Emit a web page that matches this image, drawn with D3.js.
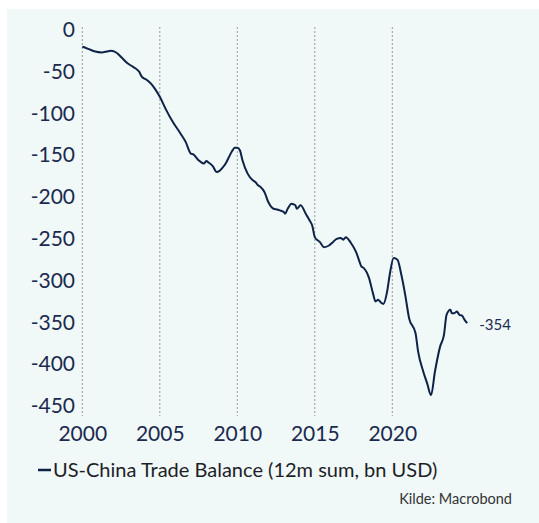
<!DOCTYPE html>
<html>
<head>
<meta charset="utf-8">
<script src="https://cdn.jsdelivr.net/npm/d3@7"></script>
<style>
  html, body { margin: 0; padding: 0; background: #ffffff; }
  svg { display: block; }
  text { font-family: "Lato", "DejaVu Sans", sans-serif; }
</style>
</head>
<body>
<svg id="chart" width="539" height="523"></svg>
<script>
// ---- data ----
const dates = [
  "2000-01","2000-06","2000-11","2001-04","2001-08","2001-11","2002-02","2002-04","2002-08","2002-12",
  "2003-03","2003-06","2003-09","2003-11","2004-03","2004-06","2004-09","2005-01","2005-06","2005-11",
  "2006-05","2006-09","2007-01","2007-03","2007-07","2007-11","2008-01","2008-03","2008-06","2008-09",
  "2008-11","2009-01","2009-04","2009-06","2009-09","2009-11","2010-01","2010-03","2010-05","2010-09",
  "2011-01","2011-03","2011-05","2011-07","2011-10","2012-01","2012-05","2012-08","2012-10","2013-01",
  "2013-02","2013-04","2013-07","2013-09","2013-10","2013-11","2014-02","2014-06","2014-09","2014-11",
  "2015-01","2015-05","2015-08","2015-12","2016-03","2016-06","2016-09","2016-11","2017-01","2017-05",
  "2017-09","2017-12","2018-01","2018-03","2018-07","2018-10","2018-12","2019-02","2019-04","2019-06",
  "2019-09","2019-11","2020-02","2020-05","2020-08","2020-11","2021-02","2021-07","2021-09","2022-01",
  "2022-04","2022-07","2022-10","2023-02","2023-05","2023-07","2023-10","2023-11","2024-01","2024-03",
  "2024-05","2024-07","2024-09","2024-11"
];
const balance = [
  -21,-24,-27,-28,-27,-26,-27,-29,-35,-41,
  -44,-47,-51,-57,-61,-65,-71,-81,-97,-111,
  -125,-135,-149,-150,-157,-161,-158,-160,-164,-171,
  -170,-167,-161,-155,-146,-142,-142,-145,-157,-173,
  -181,-183,-187,-189,-195,-207,-215,-216,-217,-219,
  -221,-215,-209,-210,-211,-215,-211,-221,-229,-235,
  -249,-255,-261,-259,-255,-251,-250,-252,-249,-256,
  -267,-280,-284,-286,-298,-316,-326,-324,-327,-329,
  -314,-294,-274,-276,-294,-318,-346,-364,-386,-410,
  -424,-438,-410,-380,-366,-342,-336,-340,-340,-338,
  -342,-343,-348,-352
];
const lastLabel = "-354";
const xTicks = [2000, 2005, 2010, 2015, 2020];
const yTicks = [0, -50, -100, -150, -200, -250, -300, -350, -400, -450];
const seriesName = "US-China Trade Balance (12m sum, bn USD)";
const sourceText = "Kilde: Macrobond";

// ---- layout ----
const svg = d3.select("#chart");
const navy = "#0e2247";
const textNavy = "#1b2a4e";

svg.append("rect").attr("x", 7).attr("y", 9).attr("width", 532).attr("height", 514)
  .attr("fill", "#f0f8f8");

const parse = d3.timeParse("%Y-%m");
const toYear = s => { const d = parse(s); return d.getFullYear() + d.getMonth() / 12; };
const data = dates.map((d, i) => ({ t: toYear(d), v: balance[i] }));

const x = d3.scaleLinear().domain([2000, 2020]).range([82.3, 392.3]);
const y = d3.scaleLinear().domain([2.4, -463]).range([27, 416]);

// vertical dotted grid lines
svg.append("g").selectAll("line").data(xTicks).join("line")
  .attr("x1", d => x(d)).attr("x2", d => x(d))
  .attr("y1", y.range()[0]).attr("y2", y.range()[1])
  .attr("stroke", "#9a9a9a").attr("stroke-width", 1)
  .attr("stroke-dasharray", "2,2");

// y axis labels
const yAxis = d3.axisLeft(y).tickValues(yTicks).tickSize(0).tickPadding(0)
  .tickFormat(d => d === 0 ? "0" : "-" + Math.abs(d));
const yg = svg.append("g").attr("transform", "translate(75,0)").call(yAxis);
yg.select(".domain").remove();
yg.selectAll("text").attr("font-size", 21).attr("fill", textNavy)
  .attr("font-family", "Lato, 'DejaVu Sans', sans-serif").attr("dy", "0.36em");

// x axis labels
const xAxis = d3.axisBottom(x).tickValues(xTicks).tickSize(0).tickPadding(0)
  .tickFormat(d3.format("d"));
const xg = svg.append("g").attr("transform", "translate(0,425)").call(xAxis);
xg.select(".domain").remove();
xg.selectAll("text").attr("font-size", 21).attr("fill", textNavy)
  .attr("font-family", "Lato, 'DejaVu Sans', sans-serif").attr("dy", "0.75em");

// line
const line = d3.line().x(d => x(d.t)).y(d => y(d.v)).curve(d3.curveMonotoneX);
svg.append("path").datum(data).attr("d", line)
  .attr("fill", "none").attr("stroke", navy).attr("stroke-width", 2)
  .attr("stroke-linejoin", "round");

// last value label
const last = data[data.length - 1];
svg.append("text").attr("x", x(last.t) + 12).attr("y", y(-354))
  .attr("dy", "0.35em").attr("font-size", 15).attr("fill", textNavy).text(lastLabel);

// legend
svg.append("line").attr("x1", 38).attr("x2", 51).attr("y1", 470).attr("y2", 470)
  .attr("stroke", navy).attr("stroke-width", 2.5);
svg.append("text").attr("x", 53).attr("y", 470).attr("dy", "0.35em")
  .attr("font-size", 20).attr("fill", "#1e1e28").text(seriesName);

// source
svg.append("text").attr("x", 512).attr("y", 499).attr("dy", "0.35em")
  .attr("text-anchor", "end").attr("font-size", 14.5).attr("fill", "#333333").text(sourceText);
</script>
</body>
</html>
